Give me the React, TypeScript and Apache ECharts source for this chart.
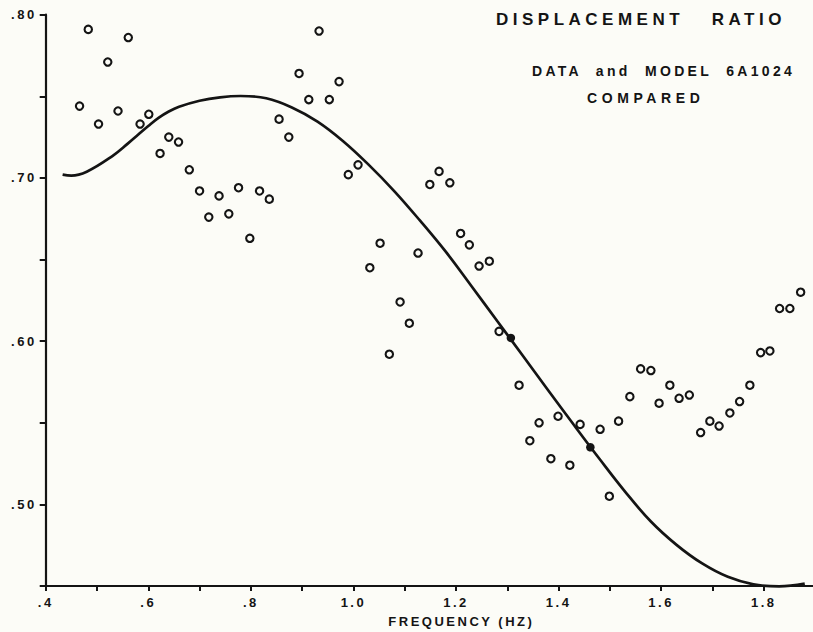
import React, { useEffect, useRef } from "react";
import * as echarts from "echarts";

// Measured data points (open circles)
const dataFreq = [
  0.466, 0.483, 0.503, 0.521, 0.541, 0.561, 0.584, 0.601, 0.623, 0.64, 0.659, 0.68, 0.7, 0.718, 0.738,
  0.757, 0.776, 0.798, 0.817, 0.836, 0.855, 0.874, 0.894, 0.913, 0.933, 0.953, 0.972, 0.99, 1.009, 1.032,
  1.052, 1.07, 1.091, 1.109, 1.126, 1.149, 1.167, 1.188, 1.209, 1.226, 1.245, 1.265, 1.284, 1.323, 1.344,
  1.362, 1.385, 1.399, 1.422, 1.442, 1.481, 1.499, 1.517, 1.539, 1.56, 1.58, 1.596, 1.617, 1.635, 1.655,
  1.677, 1.695, 1.713, 1.734, 1.753, 1.773, 1.794, 1.812, 1.831, 1.851, 1.872,
];
const dataRatio = [
  0.744, 0.791, 0.733, 0.771, 0.741, 0.786, 0.733, 0.739, 0.715, 0.725, 0.722, 0.705, 0.692, 0.676, 0.689,
  0.678, 0.694, 0.663, 0.692, 0.687, 0.736, 0.725, 0.764, 0.748, 0.79, 0.748, 0.759, 0.702, 0.708, 0.645,
  0.66, 0.592, 0.624, 0.611, 0.654, 0.696, 0.704, 0.697, 0.666, 0.659, 0.646, 0.649, 0.606, 0.573, 0.539,
  0.55, 0.528, 0.554, 0.524, 0.549, 0.546, 0.505, 0.551, 0.566, 0.583, 0.582, 0.562, 0.573, 0.565, 0.567,
  0.544, 0.551, 0.548, 0.556, 0.563, 0.573, 0.593, 0.594, 0.62, 0.62, 0.63,
];

// Data points lying on the model curve (drawn filled)
const filledFreq = [1.307, 1.462];
const filledRatio = [0.602, 0.535];

// Model 6A1024 curve
const modelFreq = [
  0.433, 0.45, 0.48, 0.53, 0.56, 0.58, 0.6, 0.62, 0.64, 0.66, 0.7, 0.74, 0.78, 0.83, 0.88, 0.93, 0.98,
  1.03, 1.08, 1.13, 1.18, 1.23, 1.28, 1.33, 1.38, 1.43, 1.48, 1.53, 1.58, 1.63, 1.68, 1.73, 1.78, 1.83,
  1.88,
];
const modelRatio = [
  0.702, 0.7014, 0.7038, 0.7134, 0.721, 0.7264, 0.7318, 0.7368, 0.7407, 0.7436, 0.7473, 0.7494, 0.7502,
  0.7488, 0.7432, 0.7345, 0.7225, 0.708, 0.6918, 0.6738, 0.6548, 0.6338, 0.6125, 0.5912, 0.5698, 0.5486,
  0.5278, 0.5077, 0.4895, 0.4752, 0.4638, 0.4556, 0.451, 0.4498, 0.4515,
];

const titleText = "DISPLACEMENT   RATIO";
const subtitleText = "DATA  and  MODEL  6A1024";
const subtitle2Text = "COMPARED";
const xAxisName = "FREQUENCY (HZ)";

const css = `
.rs text { letter-spacing: 2.5px; white-space: pre; }
.rs text[style*="17px"] { letter-spacing: 4.5px; }
.rs text[style*="14px"] { letter-spacing: 3.3px; }
.rs text[style*="sans-serif"] { letter-spacing: 4.6px; }
`;

export default function App() {
  const ref = useRef<HTMLDivElement>(null);

  useEffect(() => {
    const chart = echarts.init(ref.current!, null, { renderer: "svg" });
    const ink = "#141414";
    const ff = "Liberation Sans";

    chart.setOption({
      animation: false,
      backgroundColor: "#fcfcf7",
      grid: {
        left: 45.7,
        right: -2,
        top: 14.7,
        bottom: 46,
        containLabel: false,
        outerBoundsMode: "none",
      },
      xAxis: {
        type: "value",
        min: 0.4,
        max: 1.9,
        interval: 0.1,
        splitLine: { show: false },
        axisLine: { show: true, lineStyle: { color: ink, width: 2.2 } },
        axisTick: { show: true, length: 5, lineStyle: { color: ink, width: 2 } },
        axisLabel: {
          margin: 10,
          color: ink,
          fontSize: 13,
          fontWeight: "bold",
          fontFamily: ff,
          formatter: (v: number) => {
            const k = Math.round(v * 10);
            if (k % 2 !== 0) return "";
            return k < 10 ? "." + k : (k / 10).toFixed(1);
          },
        },
        name: xAxisName,
        nameLocation: "middle",
        nameGap: 29,
        nameTextStyle: {
          color: ink,
          fontSize: 13,
          fontWeight: "bold",
          fontFamily: ff,
          padding: [0, 0, 0, 62],
        },
      },
      yAxis: {
        type: "value",
        min: 0.45,
        max: 0.8,
        interval: 0.05,
        splitLine: { show: false },
        axisLine: { show: true, lineStyle: { color: ink, width: 2.2 } },
        axisTick: { show: true, length: 6, lineStyle: { color: ink, width: 2 } },
        axisLabel: {
          margin: 9,
          color: ink,
          fontSize: 13,
          fontWeight: "bold",
          fontFamily: ff,
          formatter: (v: number) => {
            const k = Math.round(v * 100);
            if (k % 10 !== 0) return "";
            return "." + k;
          },
        },
      },
      graphic: [
        {
          type: "text",
          x: 496,
          y: 19,
          style: {
            text: titleText,
            font: "bold 17px Liberation Sans",
            fill: ink,
            textAlign: "left",
            align: "left",
            textVerticalAlign: "middle",
            verticalAlign: "middle",
          },
        },
        {
          type: "text",
          x: 532,
          y: 71,
          style: {
            text: subtitleText,
            font: "bold 14px Liberation Sans",
            fill: ink,
            textAlign: "left",
            align: "left",
            textVerticalAlign: "middle",
            verticalAlign: "middle",
          },
        },
        {
          type: "text",
          x: 587,
          y: 98,
          style: {
            text: subtitle2Text,
            font: "bold 14px 'Liberation Sans', sans-serif",
            fill: ink,
            textAlign: "left",
            align: "left",
            textVerticalAlign: "middle",
            verticalAlign: "middle",
          },
        },
      ],
      series: [
        {
          name: "Model 6A1024",
          type: "line",
          data: modelFreq.map((x, i) => [x, modelRatio[i]]),
          smooth: 0.4,
          symbol: "none",
          clip: false,
          lineStyle: { color: ink, width: 2.7 },
          z: 2,
        },
        {
          name: "Data",
          type: "scatter",
          data: dataFreq.map((x, i) => [x, dataRatio[i]]),
          symbol: "circle",
          symbolSize: 7.4,
          itemStyle: { color: "rgba(0,0,0,0)", borderColor: ink, borderWidth: 2.1, opacity: 1 },
          z: 3,
        },
        {
          name: "Data on model",
          type: "scatter",
          data: filledFreq.map((x, i) => [x, filledRatio[i]]),
          symbol: "circle",
          symbolSize: 8.5,
          itemStyle: { color: ink, opacity: 1 },
          z: 4,
        },
      ],
    });

    return () => chart.dispose();
  }, []);

  return (
    <>
      <style>{css}</style>
      <div
        ref={ref}
        className="rs"
        style={{ position: "fixed", left: 0, top: 0, width: 813, height: 632 }}
      />
    </>
  );
}
